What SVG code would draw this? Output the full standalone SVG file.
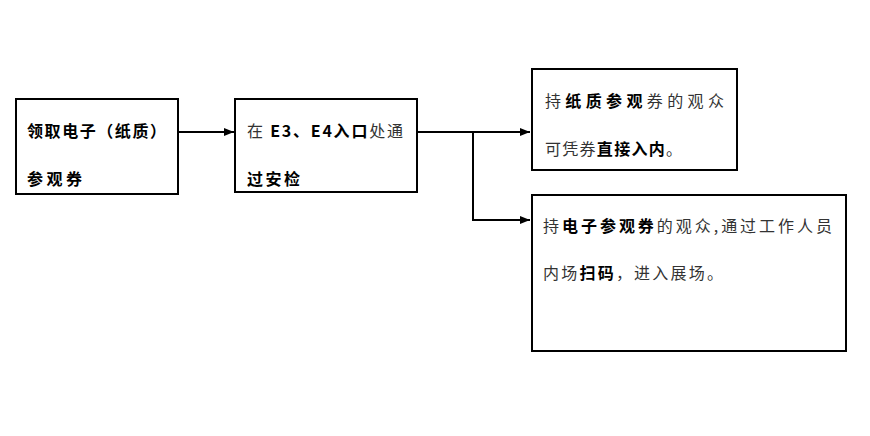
<svg xmlns="http://www.w3.org/2000/svg" width="870" height="436" viewBox="0 0 870 436">
<style>
.box{fill:#fff;stroke:#000;stroke-width:2}
.t{font-family:"Noto Sans CJK SC","Noto Sans",sans-serif;font-size:16px;fill:#333}
.b{font-weight:bold;fill:#000}
.line{fill:none;stroke:#000;stroke-width:2}
</style>
<defs>
<marker id="ah" viewBox="0 0 10 10" refX="10" refY="5" markerWidth="10" markerHeight="10" markerUnits="userSpaceOnUse" orient="auto">
<path d="M0,1 L10,5 L0,9 Z" fill="#000"/>
</marker>
</defs>
<rect width="870" height="436" fill="#fff"/>
<g id="node1">
<rect class="box" x="16" y="99" width="162" height="95"/>
<text class="t b" x="27" y="137" textLength="139" lengthAdjust="spacing">领取电子（纸质）</text>
<text class="t b" x="27" y="185" textLength="55" lengthAdjust="spacing">参观券</text>
</g>
<g id="node2">
<rect class="box" x="235" y="99" width="182" height="93"/>
<text class="t" x="247" y="137" textLength="156" lengthAdjust="spacing">在 <tspan class="b">E3、E4入口</tspan>处通</text>
<text class="t b" x="247" y="185" textLength="53" lengthAdjust="spacing">过安检</text>
</g>
<g id="node3">
<rect class="box" x="532" y="69" width="205" height="101"/>
<text class="t" x="545" y="107" textLength="179" lengthAdjust="spacing">持<tspan class="b">纸质参观</tspan>券的观众</text>
<text class="t" x="545" y="155" textLength="137" lengthAdjust="spacing">可凭券<tspan class="b">直接入内</tspan>。</text>
</g>
<g id="node4">
<rect class="box" x="532" y="195" width="314" height="156"/>
<text class="t" x="543" y="232" textLength="289" lengthAdjust="spacing">持<tspan class="b">电子参观券</tspan>的观众,通过工作人员</text>
<text class="t" x="543" y="279" textLength="180" lengthAdjust="spacing">内场<tspan class="b">扫码</tspan>，进入展场。</text>
</g>
<g id="connectors">
<line class="line" x1="178" y1="132" x2="234" y2="132" marker-end="url(#ah)"/>
<line class="line" x1="417" y1="132" x2="530" y2="132" marker-end="url(#ah)"/>
<polyline class="line" points="473,132 473,220 530,220" marker-end="url(#ah)"/>
</g>
</svg>
